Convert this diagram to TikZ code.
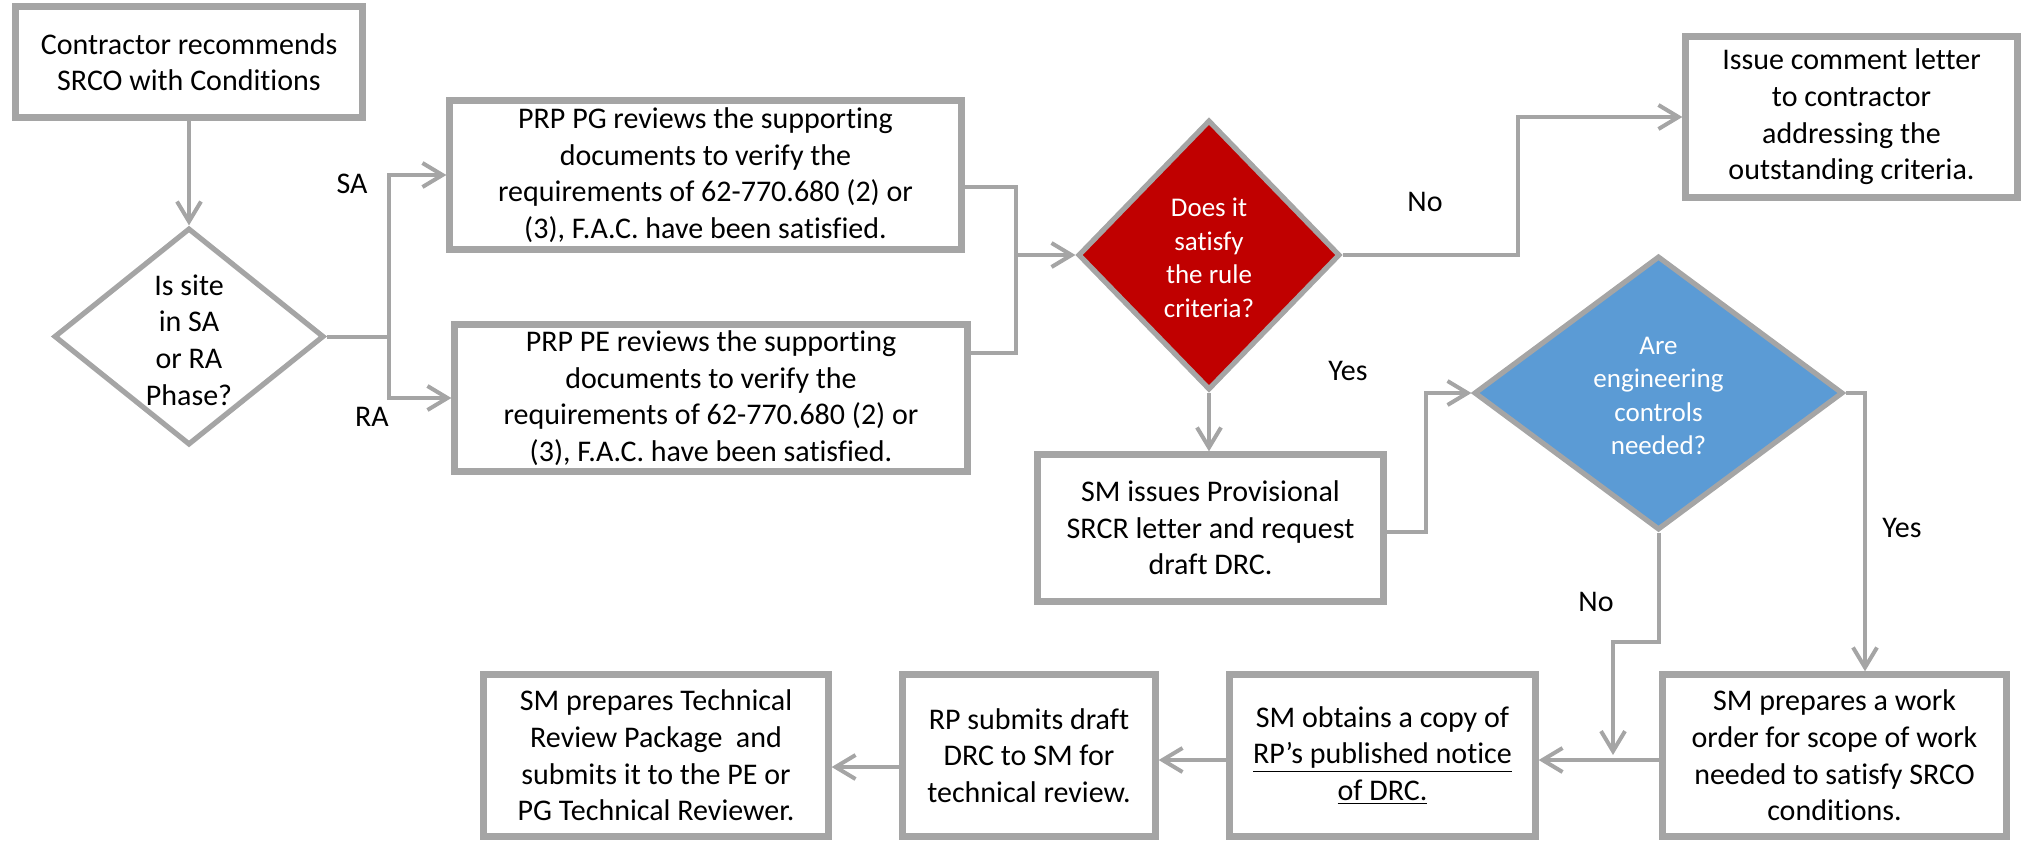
\documentclass[tikz,border=0pt]{standalone}
\usepackage{fontspec}
\setmainfont[Ligatures={NoCommon}]{Carlito}
\usetikzlibrary{shapes.geometric,arrows.meta}
\definecolor{bgray}{HTML}{A5A5A5}
\definecolor{dred}{HTML}{C00000}
\definecolor{dblue}{HTML}{5B9BD5}
\tikzset{
  box/.style={draw=bgray, line width=3.25pt, fill=white, align=center, inner sep=0pt,
    font=\fontsize{15pt}{18.3pt}\selectfont},
  dia/.style={diamond, draw=bgray, line width=2.6pt, inner sep=0pt, aspect=1},
  dtext/.style={align=center, font=\fontsize{15pt}{18.3pt}\selectfont},
  wtext/.style={align=center, text=white, font=\fontsize{13.5pt}{16.8pt}\selectfont},
  lbl/.style={font=\fontsize{15pt}{18pt}\selectfont, inner sep=0pt},
  conn/.style={draw=bgray, line width=2pt},
  arr/.style={conn, -{Straight Barb[length=10pt,width=12pt]}},
}
\begin{document}
\begin{tikzpicture}[x=0.5pt,y=-0.5pt]
\useasboundingbox (0,0) rectangle (2024,842);
% boxes
\node[box, minimum width=173.4pt, minimum height=55.4pt] (b1) at (189,62)
  {Contractor recommends\\SRCO with Conditions};
\node[box, minimum width=255.9pt, minimum height=74.4pt] (pg) at (705.5,175)
  {PRP PG reviews the supporting\\documents to verify the\\requirements of 62-770.680 (2) or\\(3), F.A.C. have been satisfied.};
\node[box, minimum width=256.4pt, minimum height=73.4pt] (pe) at (711,398)
  {PRP PE reviews the supporting\\documents to verify the\\requirements of 62-770.680 (2) or\\(3), F.A.C. have been satisfied.};
\node[box, minimum width=165.9pt, minimum height=80.4pt] (iss) at (1851.5,117)
  {Issue comment letter\\to contractor\\addressing the\\outstanding criteria.};
\node[box, minimum width=172.9pt, minimum height=73.4pt] (smi) at (1210.5,528)
  {SM issues Provisional\\SRCR letter and request\\draft DRC.};
\node[box, minimum width=171.9pt, minimum height=80.9pt] (wo) at (1834.5,755.5)
  {SM prepares a work\\order for scope of work\\needed to satisfy SRCO\\conditions.};
\node[box, minimum width=152.9pt, minimum height=80.9pt] (obt) at (1382.5,755.5)
  {SM obtains a copy of\\\underline{RP’s published notice}\\\underline{of DRC.}};
\node[box, minimum width=126.4pt, minimum height=80.9pt] (rp) at (1029,755.5)
  {RP submits draft\\DRC to SM for\\technical review.};
\node[box, minimum width=172.4pt, minimum height=80.9pt] (tech) at (656,755.5)
  {SM prepares Technical\\Review Package\ \ and\\submits it to the PE or\\PG Technical Reviewer.};
% diamonds
\node[dia, fill=white, minimum width=135pt, minimum height=108.5pt] (d1) at (189,336.5) {};
\node[dtext] (d1t) at (189,340) {Is site\\in SA\\or RA\\Phase?};
\node[dia, fill=dred, minimum width=131pt, minimum height=135pt] (d2) at (1209,255) {};
\node[wtext] (d2t) at (1209,258) {Does it\\satisfy\\the rule\\criteria?};
\node[dia, fill=dblue, minimum width=184.5pt, minimum height=137pt] (d3) at (1658.5,393) {};
\node[wtext] (d3t) at (1658.5,396) {Are\\engineering\\controls\\needed?};
% labels
\node[lbl] (lsa) at (352,184) {SA};
\node[lbl] (lra) at (372,417) {RA};
\node[lbl] (lno1) at (1425,202) {No};
\node[lbl] (lyes1) at (1348,371) {Yes};
\node[lbl] (lyes2) at (1902,528) {Yes};
\node[lbl] (lno2) at (1596,602) {No};
% coordinates
\coordinate (s1) at (389,336.5);
\coordinate (m1) at (1016,255);
\coordinate (n1) at (1518,255);
\coordinate (p1) at (1426,532);
\coordinate (q1) at (1865,393);
\coordinate (r1) at (1658.5,642);
\coordinate (r2) at (1613,642);
\coordinate (r3) at (1613,755);
% connectors
\draw[arr] (b1.south) -- (d1.north);
\draw[conn] (d1.east) -- (s1);
\draw[arr] (s1) |- (pg.west);
\draw[arr] (s1) |- (pe.west);
\draw[conn] ([yshift=-6pt]pg.east) -| (m1);
\draw[conn] ([yshift=22.5pt]pe.east) -| (m1);
\draw[arr] (m1) -- (d2.west);
\draw[arr] (d2.east) -- (n1) |- (iss.west);
\draw[arr] (d2.south) -- (d2.south |- smi.north);
\draw[arr] (smi.east |- p1) -- (p1) |- (d3.west);
\draw[arr] (d3.east) -- (q1) -- (q1 |- wo.north);
\draw[arr] (d3.south) -- (r1) -- (r2) -- (r3);
\draw[arr] ([yshift=-2.25pt]wo.west) -- ([yshift=-2.25pt]obt.east);
\draw[arr] ([yshift=-2.25pt]obt.west) -- ([yshift=-2.25pt]rp.east);
\draw[arr] ([yshift=-5.75pt]rp.west) -- ([yshift=-5.75pt]tech.east);
\end{tikzpicture}
\end{document}
